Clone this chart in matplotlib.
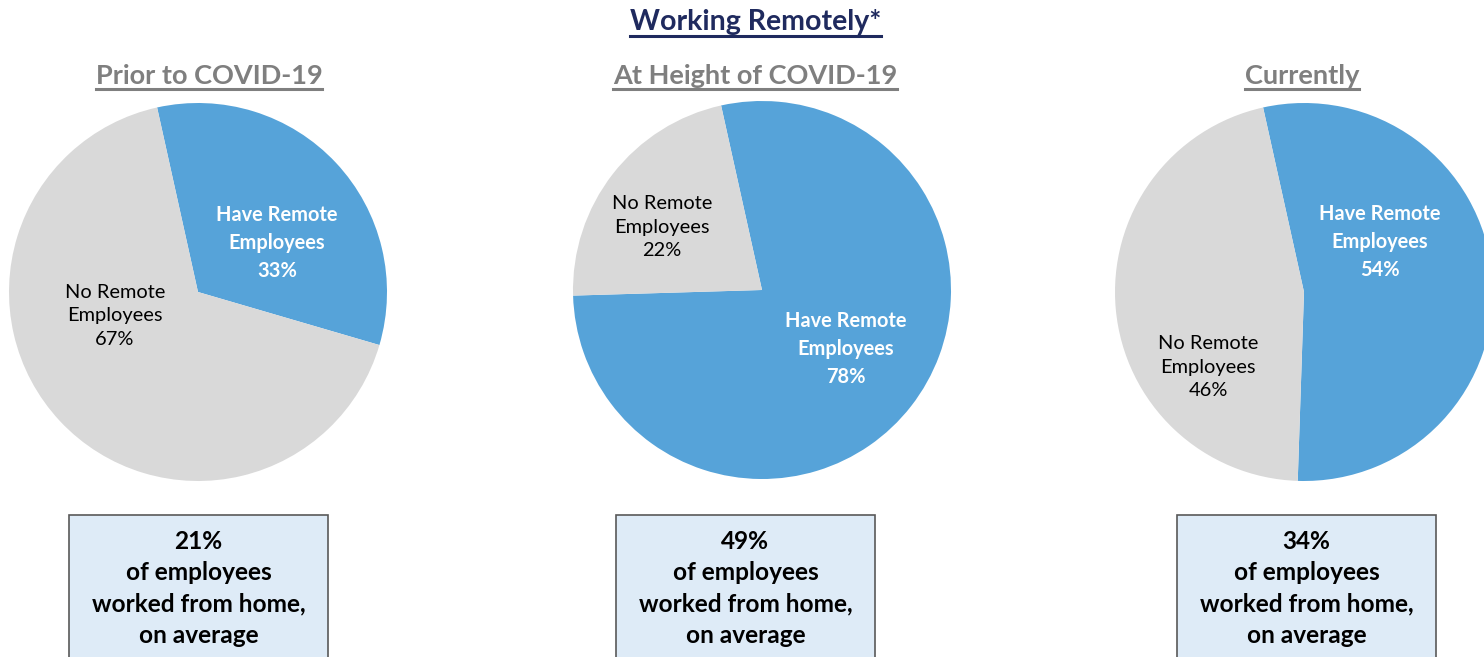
import matplotlib.pyplot as plt
from matplotlib.patches import Rectangle
from matplotlib.lines import Line2D

# Survey results
periods = ['Prior to COVID-19', 'At Height of COVID-19', 'Currently']
have_remote = [33, 78, 54]   # % of firms with remote employees
no_remote = [67, 22, 46]     # % of firms without
wfh_avg = [21, 49, 34]       # % of employees working from home, on average

W, H = 1484, 657
BLUE = '#56A3D9'
GREY = '#D9D9D9'
NAVY = '#1F2A5E'
SUBGREY = '#7F7F7F'
FONT = 'Lato'

def fy(y):
    # pixel rows run top-down, axes run bottom-up
    return H - y

# layout (pixel coords, top-left origin)
pie_cx = [198, 762, 1304]
pie_cy = [292, 290, 292]
pie_r = 189
sub_x = [209, 755, 1302]
box_x = [69, 616, 1177]
box_w = 259
box_top = 515
have_lbl = [(277, 243), (846, 349), (1380, 242)]
no_lbl = [(115, 316), (662, 227), (1208, 367)]

fig = plt.figure(figsize=(W / 100, H / 100), dpi=100)
ax = fig.add_axes([0, 0, 1, 1])

for i in range(3):
    ax.pie([have_remote[i], no_remote[i]], colors=[BLUE, GREY],
           startangle=102.5, counterclock=False,
           center=(pie_cx[i], fy(pie_cy[i])), radius=pie_r,
           wedgeprops=dict(linewidth=0))

    hx, hy = have_lbl[i]
    ax.text(hx, fy(hy), f'Have Remote\nEmployees\n{have_remote[i]}%',
            ha='center', va='center', color='white', fontweight='bold',
            fontsize=14.4, family=FONT, linespacing=1.48)
    nx, ny = no_lbl[i]
    ax.text(nx, fy(ny), f'No Remote\nEmployees\n{no_remote[i]}%',
            ha='center', va='center', color='black',
            fontsize=14.4, family=FONT, linespacing=1.48)

    ax.add_patch(Rectangle((box_x[i], -10), box_w, fy(box_top) + 10,
                           facecolor='#DEEBF7', edgecolor='#595959', lw=1.2))
    ax.text(box_x[i] + box_w / 2, fy(588.5),
            f'{wfh_avg[i]}%\nof employees\nworked from home,\non average',
            ha='center', va='center', fontweight='bold', fontsize=17.6,
            family=FONT, linespacing=1.45, color='black')

ax.set_xlim(0, W)
ax.set_ylim(0, H)
ax.set_aspect('auto')
ax.axis('off')

# titles sit on their baselines so the underline can be placed below them
titles = [ax.text(755.5, fy(30), 'Working Remotely*', ha='center', va='baseline',
                  fontsize=20.5, fontweight='bold', color=NAVY, family=FONT)]
under_y = [fy(35.5)]
under_c = [NAVY]
for i, p in enumerate(periods):
    titles.append(ax.text(sub_x[i], fy(83.5), p, ha='center', va='baseline',
                          fontsize=19.5, fontweight='bold', color=SUBGREY, family=FONT))
    under_y.append(fy(88.5))
    under_c.append(SUBGREY)

fig.canvas.draw()
r = fig.canvas.get_renderer()
for t, uy, c in zip(titles, under_y, under_c):
    bb = t.get_window_extent(r)
    ax.add_line(Line2D([bb.x0, bb.x1], [uy, uy], color=c, lw=2.2))

fig.savefig('out.png', dpi=100)
